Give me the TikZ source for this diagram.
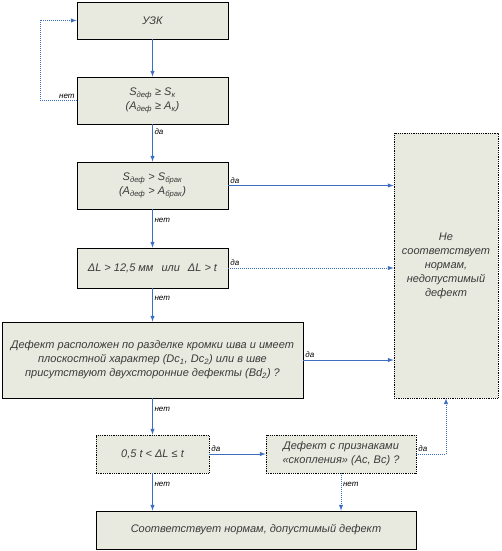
\documentclass[tikz,border=0pt]{standalone}
\usepackage{fontspec}
\setmainfont{Liberation Sans}
\usepackage{tikz}
\usetikzlibrary{positioning}

\definecolor{boxfill}{HTML}{E9EADF}
\definecolor{linkblue}{HTML}{3D6EC2}
\definecolor{boxtext}{HTML}{3A3A3A}

\tikzset{
    block/.style={draw=black, line width=0.8pt, fill=boxfill, text=boxtext, align=center,
        font=\fontsize{11}{14}\selectfont\itshape, inner sep=2pt},
    dotblock/.style={block, densely dotted},
    link/.style={draw=linkblue, line width=1pt, -latex},
    dotlink/.style={link, densely dotted},
    answer/.style={font=\fontsize{8}{9}\selectfont\itshape, text=black, inner sep=1.5pt}
}

\begin{document}
\begin{tikzpicture}[x=1pt, y=-1pt]

\useasboundingbox (0,0) rectangle (502,551);

\node[block, minimum width=151pt, minimum height=37pt] (uzk) at (152.5,20.5) {УЗК};
\node[block, minimum width=151pt, minimum height=47pt] (sk) at (152.5,100.5)
    {S\textsubscript{деф} ≥ S\textsubscript{к}\\(A\textsubscript{деф} ≥ A\textsubscript{к})};
\node[block, minimum width=151pt, minimum height=47pt] (sbrak) at (152.5,185.5)
    {S\textsubscript{деф} > S\textsubscript{брак}\\(A\textsubscript{деф} > A\textsubscript{брак})};
\node[block, minimum width=151pt, minimum height=40pt] (dl) at (152.5,268)
    {ΔL > 12,5 мм\hspace{8pt}или\hspace{8pt}ΔL > t};
\node[block, minimum width=301pt, minimum height=76pt] (razd) at (152.5,360)
    {Дефект расположен по разделке кромки шва и имеет\\плоскостной характер (Dc\textsubscript{1}, Dc\textsubscript{2}) или в шве\\присутствуют двухсторонние дефекты (Bd\textsubscript{2}) ?};
\node[dotblock, minimum width=104pt, minimum height=265pt] (ne) at (446,265.5)
    {Не\\соответствует\\нормам,\\недопустимый\\дефект};
\node[dotblock, minimum width=113pt, minimum height=38pt] (half) at (152.5,454)
    {0,5 t < ΔL ≤ t};
\node[dotblock, minimum width=150pt, minimum height=38pt] (skop) at (341,454)
    {Дефект с признаками\\«скопления» (Ac, Bc) ?};
\node[block, minimum width=320pt, minimum height=38pt] (ok) at (256,530)
    {Соответствует нормам, допустимый дефект};

\draw[link] (uzk) -- (sk);
\draw[link] (sk) -- node[answer, right, pos=0.2] {да} (sbrak);
\draw[link] (sbrak) -- node[answer, right, pos=0.3] {нет} (dl);
\draw[link] (dl) -- node[answer, right, pos=0.3] {нет} (razd);
\draw[link] (razd) -- node[answer, right, pos=0.3] {нет} (half);
\draw[link] (half) -- node[answer, right, pos=0.3] {нет} (half |- ok.north);

\draw[link] (sbrak.east) -- node[answer, above right, pos=0] {да} (ne.west |- sbrak.east);
\draw[dotlink] (dl.east) -- node[answer, above right, pos=0] {да} (ne.west |- dl.east);
\draw[link] (razd.east) -- node[answer, above right, pos=0] {да} (ne.west |- razd.east);
\draw[link] (half) -- node[answer, above right, pos=0] {да} (skop);
\draw[dotlink] (skop.east) -- node[answer, above right, pos=0] {да} (skop.east -| ne.south) -- (ne.south);
\draw[dotlink] (skop.south) -- node[answer, right, pos=0.3] {нет} (skop.south |- ok.north);

\coordinate (loop) at (40,100.5);
\draw[dotlink] (sk.west) -- node[answer, above left, pos=0] {нет} (loop) |- (uzk.west);

\end{tikzpicture}
\end{document}
